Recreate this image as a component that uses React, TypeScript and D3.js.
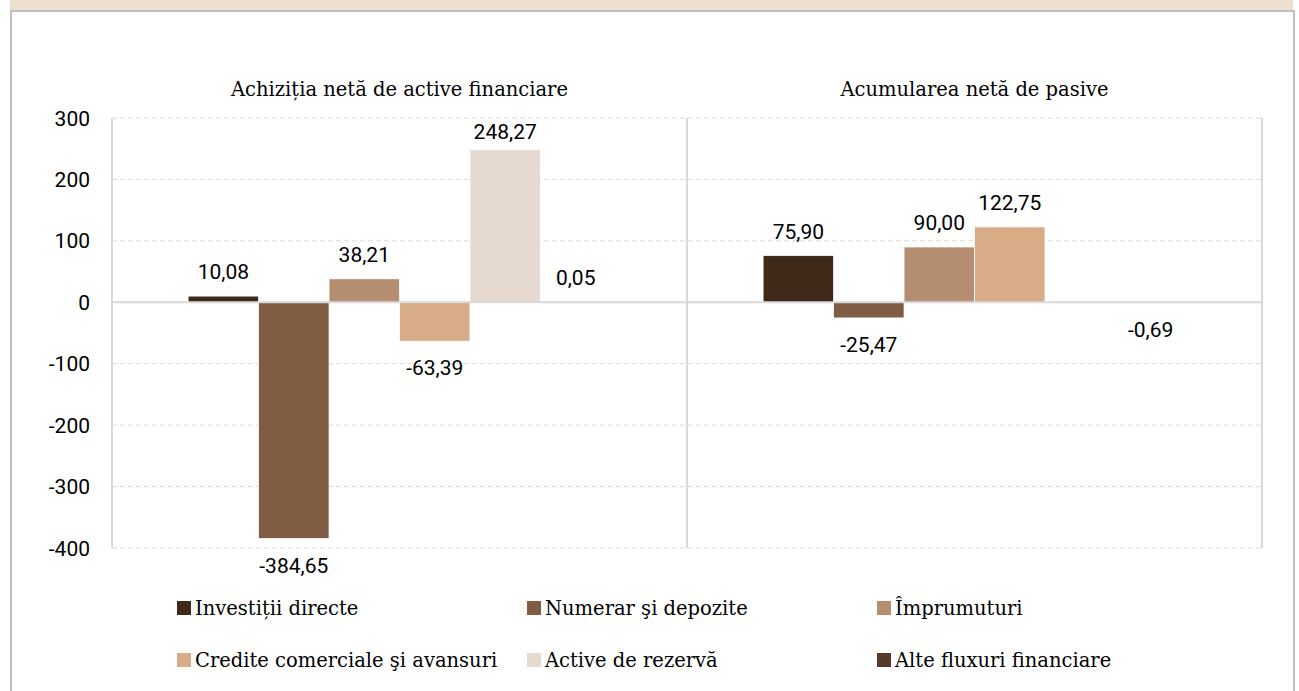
import React from "react";
import * as d3 from "d3";

const panels = ["Achiziția netă de active financiare", "Acumularea netă de pasive"];
const seriesNames = [
  "Investiții directe",
  "Numerar şi depozite",
  "Împrumuturi",
  "Credite comerciale şi avansuri",
  "Active de rezervă",
  "Alte fluxuri financiare",
];
const seriesColors = ["#3F2A19", "#7F5C42", "#B58E71", "#D8AC87", "#E6D9CF", "#563B2B"];
// values per series: [assets, liabilities]
const investitiiDirecte = [10.08, 75.9];
const numerarDepozite = [-384.65, -25.47];
const imprumuturi = [38.21, 90.0];
const crediteComerciale = [-63.39, 122.75];
const activeRezerva: (number | null)[] = [248.27, null];
const alteFluxuri = [0.05, -0.69];
const seriesValues: (number | null)[][] = [
  investitiiDirecte,
  numerarDepozite,
  imprumuturi,
  crediteComerciale,
  activeRezerva,
  alteFluxuri,
];
const yTicks = [300, 200, 100, 0, -100, -200, -300, -400];

const W = 1299;
const H = 691;
const plotLeft = 112;
const plotRight = 1262;
const plotTop = 118;
const plotBottom = 548;

const locale = d3.formatLocale({ decimal: ",", thousands: ".", grouping: [3], currency: ["", ""], minus: "-" });
const fmt2 = locale.format(".2f");
const fmt0 = locale.format("d");

const NUM_FONT = "Roboto, 'Open Sans', sans-serif";
const SERIF_FONT = "'DejaVu Serif', 'Liberation Serif', serif";

export default function App() {
  const y = d3.scaleLinear().domain([-400, 300]).range([plotBottom, plotTop]);
  const x0 = d3.scaleBand<string>().domain(panels).range([plotLeft, plotRight]).paddingInner(0).paddingOuter(0);
  const x1 = d3
    .scaleBand<string>()
    .domain(seriesNames)
    .range([0, x0.bandwidth()])
    .paddingInner(0)
    .paddingOuter(1.08);

  const legendCols = [177, 527, 877];
  const legendRows = [615, 667];

  return (
    <svg
      width={W}
      height={H}
      style={{ position: "absolute", left: 0, top: 0, display: "block", background: "#fff" }}
    >
      {/* header band */}
      <rect x={10} y={0} width={1283} height={10} fill="#EEDFD0" />
      <rect x={10} y={10} width={1285} height={2} fill="#BFBFBF" />
      <rect x={10} y={10} width={2} height={H - 10} fill="#BFBFBF" />
      <rect x={1293} y={10} width={2} height={H - 10} fill="#BFBFBF" />

      {/* gridlines */}
      {yTicks
        .filter((t) => t !== 0)
        .map((t) => (
          <line
            key={"g" + t}
            x1={plotLeft}
            x2={plotRight}
            y1={y(t)}
            y2={y(t)}
            stroke="#D9D9D9"
            strokeWidth={1}
            strokeDasharray="5,3"
          />
        ))}
      {/* vertical separators */}
      {[plotLeft, plotLeft + x0.bandwidth(), plotRight].map((xv, i) => (
        <line key={"v" + i} x1={xv} x2={xv} y1={plotTop} y2={plotBottom} stroke="#D9D9D9" strokeWidth={2} />
      ))}

      {/* y tick labels */}
      {yTicks.map((t) => (
        <text
          key={"t" + t}
          x={90}
          y={y(t) + 7.5}
          textAnchor="end"
          fontFamily={NUM_FONT}
          fontSize={21}
          fill="#000"
        >
          {fmt0(t)}
        </text>
      ))}

      {/* panel titles */}
      {panels.map((p) => (
        <text
          key={p}
          x={(x0(p) as number) + x0.bandwidth() / 2}
          y={96}
          textAnchor="middle"
          fontFamily={SERIF_FONT}
          fontSize={19.5}
          fill="#000"
        >
          {p}
        </text>
      ))}

      {/* bars */}
      {panels.map((p, pi) =>
        seriesNames.map((s, si) => {
          const v = seriesValues[si][pi];
          if (v === null || v === undefined) return null;
          const bx = (x0(p) as number) + (x1(s) as number);
          const top = y(Math.max(0, v));
          const bottom = y(Math.min(0, v));
          return (
            <rect
              key={p + s}
              x={bx}
              y={top}
              width={x1.bandwidth()}
              height={Math.max(0.5, bottom - top)}
              fill={seriesColors[si]}
              stroke="#fff"
              strokeWidth={0.75}
            />
          );
        })
      )}

      {/* zero line */}
      <line x1={plotLeft} x2={plotRight} y1={y(0)} y2={y(0)} stroke="#D9D9D9" strokeWidth={2} />

      {/* data labels */}
      {panels.map((p, pi) =>
        seriesNames.map((s, si) => {
          const v = seriesValues[si][pi];
          if (v === null || v === undefined) return null;
          const cx = (x0(p) as number) + (x1(s) as number) + x1.bandwidth() / 2;
          const ly = v >= 0 ? Math.max(plotTop + 21, y(v) - 17) : y(v) + 34;
          return (
            <text
              key={"l" + p + s}
              x={cx}
              y={ly}
              textAnchor="middle"
              fontFamily={NUM_FONT}
              fontSize={21}
              fill="#000"
            >
              {fmt2(v)}
            </text>
          );
        })
      )}

      {/* legend */}
      {seriesNames.map((s, i) => {
        const lx = legendCols[i % 3];
        const ly = legendRows[Math.floor(i / 3)];
        return (
          <g key={"lg" + s}>
            <rect x={lx} y={ly - 14} width={14} height={14} fill={seriesColors[i]} />
            <text x={lx + 18} y={ly} fontFamily={SERIF_FONT} fontSize={19.5} fill="#000">
              {s}
            </text>
          </g>
        );
      })}
    </svg>
  );
}
